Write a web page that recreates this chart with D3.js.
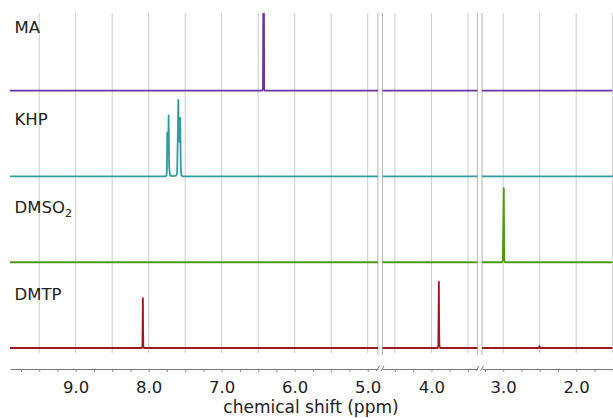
<!DOCTYPE html>
<html>
<head>
<meta charset="utf-8">
<title>1H NMR spectra</title>
<script src="https://cdn.jsdelivr.net/npm/d3@7"></script>
<style>
    body { margin: 0; background: white; }
    svg text { font-family: "DejaVu Sans", Verdana, sans-serif; fill: #222; }
</style>
</head>
<body>
<div id="graph"></div>
<script>
    // compounds, top to bottom
    var compounds = ["MA", "KHP", "DMSO2", "DMTP"];
    var colors = ["#6a34a4", "#2f9c9e", "#4e9a12", "#9b1c20"];

    // broken x axis: the three visible ppm windows
    var windows = [[9.9, 4.86], [4.67, 3.37], [3.29, 1.5]];
    var tickLabels = [9, 8, 7, 6, 5, 4, 3, 2];

    // spectra, [ppm, intensity], baseline = 0
    var maPoints = [[9.9, 0], [6.445, 0], [6.435, 2], [6.425, 200], [6.418, 2], [6.41, 0], [1.5, 0]];
    var khpPoints = [[9.9, 0], [7.77, 0], [7.756, 1], [7.75, 8], [7.746, 51], [7.74, 26], [7.733, 34],
                     [7.727, 71], [7.72, 12], [7.71, 2], [7.69, 0.5], [7.66, 0.5], [7.625, 1],
                     [7.61, 4], [7.602, 46], [7.594, 89], [7.587, 44], [7.578, 40], [7.568, 68],
                     [7.56, 8], [7.55, 1], [7.53, 0], [4.81, 0], [4.80, 0.8], [4.785, 0], [1.5, 0]];
    var dmso2Points = [[9.9, 0], [3.015, 0], [3.005, 2], [2.992, 86], [2.988, 40], [2.984, 2], [2.975, 0], [1.5, 0]];
    var dmtpPoints = [[9.9, 0], [8.095, 0], [8.086, 2], [8.08, 58], [8.074, 2], [8.065, 0],
                      [3.915, 0], [3.906, 3], [3.898, 77], [3.895, 33], [3.891, 3], [3.88, 0],
                      [2.515, 0], [2.503, 2], [2.495, 0], [1.5, 0]];
    var spectra = [maPoints, khpPoints, dmso2Points, dmtpPoints];

    // layout
    var width = 613, height = 418;
    var pxPerPpm = 73, left = 10, gap = 4.6;
    var plotTop = 13, gridBottom = 353, axisY = 369;
    var labelY = [33, 125, 212.5, 300];

    var svg = d3.select("#graph")
        .append("svg")
            .attr("width", width)
            .attr("height", height);

    // one x scale per window
    var xs = [];
    var x0 = left;
    windows.forEach(function(w) {
        var x1 = x0 + (w[0] - w[1]) * pxPerPpm;
        xs.push(d3.scaleLinear().domain(w).range([x0, x1]));
        x0 = x1 + gap;
    });

    var rowBase = d3.scalePoint()
        .domain(compounds)
        .range([90.7, 348]);

    var defs = svg.append("defs");
    xs.forEach(function(x, i) {
        var r = x.range();
        defs.append("clipPath").attr("id", "clip" + i)
            .append("rect")
                .attr("x", r[0]).attr("y", plotTop)
                .attr("width", r[1] - r[0]).attr("height", gridBottom + 4 - plotTop);
    });

    // gridlines every 0.5 ppm
    xs.forEach(function(x) {
        var d = x.domain();
        var grid = d3.range(1.5, 10.01, 0.5).filter(function(v) { return v <= d[0] && v >= d[1]; });
        svg.append("g").selectAll("line")
            .data(grid)
            .enter().append("line")
                .attr("x1", function(v) { return x(v); })
                .attr("x2", function(v) { return x(v); })
                .attr("y1", plotTop)
                .attr("y2", gridBottom)
                .attr("stroke", "#cbcbcb")
                .attr("stroke-width", 1);
    });

    // borders at the breaks
    xs.forEach(function(x, i) {
        var r = x.range();
        var edges = [];
        if (i > 0) edges.push(r[0]);
        if (i < xs.length - 1) edges.push(r[1]);
        edges.forEach(function(e) {
            svg.append("line")
                .attr("x1", e).attr("x2", e)
                .attr("y1", plotTop).attr("y2", gridBottom + 2)
                .attr("stroke", "#b8b8b8").attr("stroke-width", 1);
        });
    });

    // spectra
    compounds.forEach(function(c, k) {
        var y = d3.scaleLinear().domain([0, 100]).range([rowBase(c), rowBase(c) - 86]);
        xs.forEach(function(x, i) {
            var line = d3.line()
                .x(function(d) { return x(d[0]); })
                .y(function(d) { return y(d[1]); });
            svg.append("path")
                .datum(spectra[k])
                .attr("clip-path", "url(#clip" + i + ")")
                .attr("d", line)
                .attr("fill", "none")
                .attr("stroke", colors[k])
                .attr("stroke-width", 1.8)
                .attr("stroke-linejoin", "round");
        });
    });

    // compound labels
    compounds.forEach(function(c, k) {
        var t = svg.append("text")
            .attr("x", 14.5)
            .attr("y", labelY[k])
            .style("font-size", "16.5px");
        if (c == "DMSO2") {
            t.text("DMSO");
            t.append("tspan").attr("dy", 4).style("font-size", "11px").text("2");
        } else {
            t.text(c);
        }
    });

    // broken x axis
    xs.forEach(function(x) {
        var d = x.domain();
        var ticks = d3.range(1.5, 10.01, 0.25).filter(function(v) { return v <= d[0] + 1e-9 && v >= d[1]; });
        var axis = d3.axisBottom(x)
            .tickValues(ticks)
            .tickSize(3)
            .tickSizeOuter(0)
            .tickPadding(9)
            .tickFormat(function(v) {
                return tickLabels.indexOf(v) >= 0 ? v.toFixed(1) : "";
            });
        var g = svg.append("g")
            .attr("transform", "translate(0," + axisY + ")")
            .call(axis);
        g.select(".domain").attr("stroke", "#777");
        g.selectAll(".tick line").attr("stroke", "#888");
        g.selectAll(".tick text")
            .style("font-size", "16.5px")
            .style("font-family", "'DejaVu Sans', Verdana, sans-serif")
            .attr("fill", "#222");
    });

    // break marks on the axis
    xs.forEach(function(x, i) {
        var r = x.range();
        var marks = [];
        if (i > 0) marks.push(r[0]);
        if (i < xs.length - 1) marks.push(r[1]);
        marks.forEach(function(m) {
            svg.append("line")
                .attr("x1", m - 1.5).attr("y1", axisY + 2)
                .attr("x2", m + 1.5).attr("y2", axisY - 3)
                .attr("stroke", "#777").attr("stroke-width", 1);
        });
    });

    svg.append("text")
        .attr("x", 311)
        .attr("y", 412.5)
        .attr("text-anchor", "middle")
        .style("font-size", "17px")
        .text("chemical shift (ppm)");
</script>
</body>
</html>
